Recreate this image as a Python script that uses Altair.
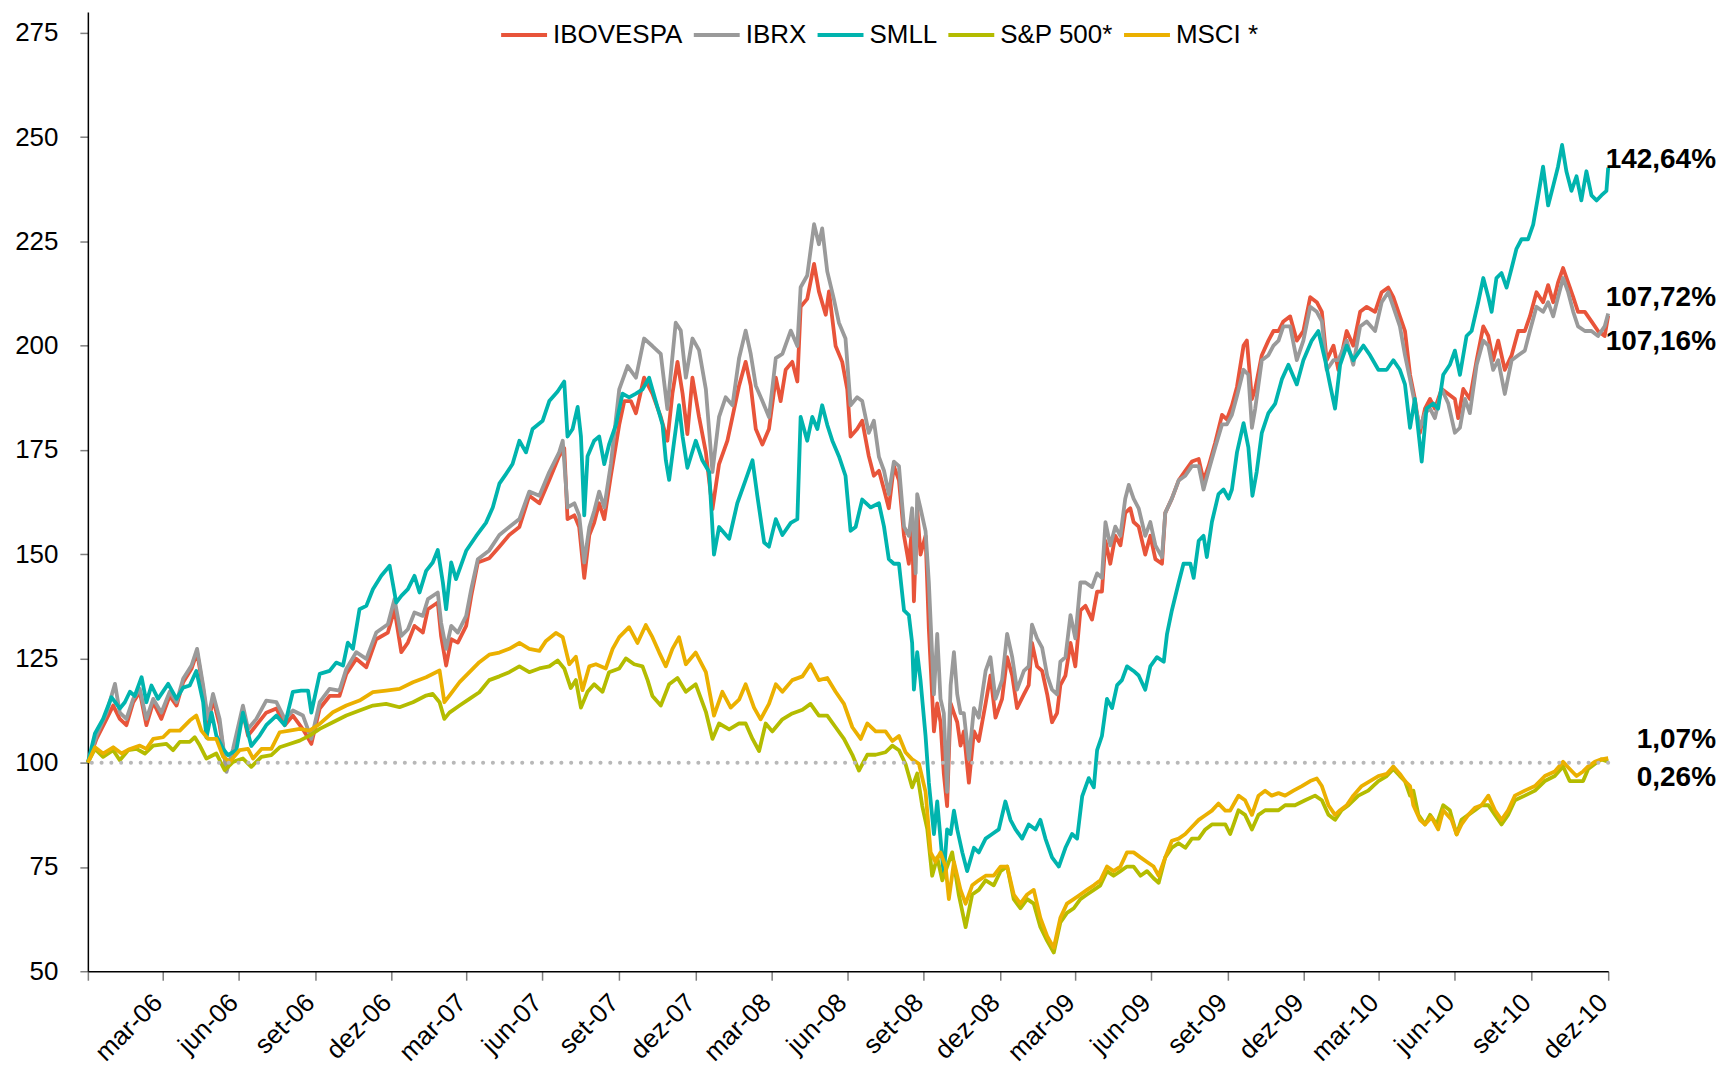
import altair as alt
import pandas as pd

# (months since end of Dec-2005, index value)
IBOVESPA = [
    (0, 100), (0.34, 105.7), (0.74, 110.5), (1.0, 113.7), (1.26, 110.5), (1.52, 109), (1.79, 114.5), (2.05, 117),
    (2.31, 109), (2.58, 114.5), (2.90, 110.5), (3.23, 116), (3.50, 113.7), (3.76, 119.3), (4.09, 122.5), (4.31, 126.5),
    (4.55, 117.7), (4.74, 109), (4.94, 115.3), (5.20, 109), (5.47, 98.2), (5.73, 102.5), (6.12, 112), (6.32, 106.5),
    (6.65, 109), (7.04, 112), (7.44, 113), (7.77, 109), (8.09, 111.3), (8.49, 108), (8.82, 104.5), (9.15, 113),
    (9.54, 116), (9.93, 116), (10.20, 121.3), (10.59, 124.9), (10.99, 122.9), (11.38, 129.6), (11.84, 131.2),
    (12.10, 136.8), (12.37, 126.5), (12.63, 128.8), (12.89, 132.8), (13.22, 131.2), (13.42, 136.8), (13.81, 138.4),
    (13.94, 130.4), (14.14, 123.3), (14.34, 129.6), (14.60, 128.8), (14.93, 132.8), (15.13, 140), (15.39, 148),
    (15.84, 149), (16.24, 151.8), (16.63, 154.6), (17.03, 156.5), (17.42, 164), (17.82, 162.2), (18.21, 167.8),
    (18.60, 173.5), (18.80, 175.4), (18.93, 158.4), (19.20, 159.3), (19.39, 156.5), (19.59, 144.3), (19.79, 154.6),
    (19.98, 157.5), (20.18, 162.2), (20.38, 158.4), (20.64, 168.8), (20.97, 181), (21.17, 186.7), (21.43, 186.7),
    (21.63, 183.8), (21.95, 192.3), (22.28, 188.5), (22.61, 182.9), (22.87, 177.2), (23.07, 188.5), (23.27, 196.1),
    (23.47, 188.5), (23.66, 178.8), (23.86, 192.3), (24.12, 182.9), (24.39, 174.4), (24.65, 160.8), (24.91, 171.6),
    (25.24, 177.2), (25.44, 182.9), (25.70, 190.4), (25.96, 196.1), (26.16, 190.4), (26.36, 180), (26.62, 176.3),
    (26.88, 180), (27.15, 192.3), (27.34, 186.7), (27.54, 194.2), (27.80, 196.1), (28.00, 191.4), (28.13, 209.3),
    (28.39, 211.2), (28.66, 219.6), (28.85, 213), (29.12, 207.4), (29.25, 213), (29.51, 199.9), (29.77, 196.1),
    (29.97, 189.5), (30.10, 178.2), (30.36, 180), (30.56, 182), (30.82, 173.5), (31.02, 168.8),
    (31.22, 170), (31.42, 165.5), (31.61, 161), (31.81, 171.1), (32.01, 167.7), (32.21, 154.4), (32.40, 147.7),
    (32.53, 156.6), (32.60, 138.7), (32.73, 161), (32.86, 149.9), (33.06, 154.4), (33.19, 132), (33.39, 107.5),
    (33.52, 114.2), (33.65, 109.7), (33.78, 97.4), (33.91, 89.6), (34.05, 114.2), (34.18, 111.9), (34.31, 109.7),
    (34.44, 104.1), (34.57, 107.5), (34.77, 95.2), (34.97, 107.5), (35.16, 105.2), (35.43, 114.2), (35.62, 120.9),
    (35.82, 110.8), (36.08, 115.3), (36.28, 125.3), (36.48, 120.9), (36.67, 113.1), (36.94, 116.4), (37.13, 118.6),
    (37.26, 128.7), (37.46, 123.1), (37.66, 122), (37.86, 116.4), (38.05, 109.7), (38.25, 111.9), (38.38, 118.6),
    (38.58, 120.9), (38.78, 128.7), (38.97, 123.1), (39.17, 136.5), (39.37, 137.6), (39.63, 134.3), (39.83, 141),
    (40.02, 141), (40.16, 153.2), (40.35, 147.7), (40.55, 154.4), (40.75, 152.1), (40.94, 159.9), (41.14, 161),
    (41.27, 157.7), (41.47, 156.6), (41.73, 149.9), (41.93, 154.4), (42.13, 148.8), (42.39, 147.7), (42.52, 159.9),
    (42.78, 163.3), (43.05, 167.7), (43.31, 170), (43.57, 172.2), (43.84, 172.8), (44.03, 167.7), (44.23, 171.1),
    (44.49, 176.7), (44.76, 183.4), (44.95, 182.3), (45.15, 185.6), (45.35, 190.1),
    (45.61, 200), (45.74, 201.2), (45.94, 187.2), (46.07, 189.6), (46.33, 197.7), (46.59, 201.2), (46.79, 203.5),
    (46.99, 203.5), (47.18, 205.8), (47.45, 207), (47.71, 201.2), (47.97, 203.5), (48.24, 211.6), (48.50, 210.4),
    (48.70, 208.1), (48.89, 196.5), (49.16, 200), (49.35, 194.2), (49.68, 203.5), (49.94, 200), (50.21, 208.1),
    (50.47, 209.3), (50.80, 208.1), (51.06, 212.8), (51.32, 213.9), (51.52, 211.6), (51.78, 207), (51.98, 203.5),
    (52.18, 193), (52.37, 187.2), (52.57, 179.1), (52.77, 184.9), (52.97, 187.2), (53.16, 184.9), (53.43, 189.6),
    (53.69, 188.4), (53.95, 187.2), (54.08, 182.6), (54.28, 189.6), (54.54, 187.2), (54.81, 196.5), (55.07, 204.6),
    (55.27, 202.3), (55.46, 196.5), (55.66, 201.2), (55.92, 194.2), (56.19, 197.7), (56.45, 203.5), (56.71, 203.5),
    (56.91, 207), (57.17, 212.8), (57.43, 210.4), (57.63, 214.5), (57.83, 210.4), (58.02, 215.1), (58.22, 218.6),
    (58.42, 215.1), (58.62, 211.6), (58.81, 208.1), (59.08, 208.1), (59.34, 205.8), (59.60, 203.5), (59.86, 202.3),
    (60.0, 207.16),
]

IBRX = [
    (0, 100), (0.34, 106.5), (0.74, 112), (1.07, 118.9), (1.26, 112), (1.52, 110.5), (1.79, 115.3), (2.05, 117.7),
    (2.31, 110.5), (2.58, 115.3), (2.90, 112), (3.23, 117), (3.50, 114.5), (3.76, 120.1), (4.09, 123.3), (4.31, 127.3),
    (4.55, 118.5), (4.74, 110.5), (4.94, 116.5), (5.20, 110.5), (5.47, 97.8), (5.73, 103.3), (6.12, 113.7),
    (6.32, 108.1), (6.65, 110.5), (7.04, 114.9), (7.44, 114.5), (7.77, 110.5), (8.09, 112.5), (8.49, 111.3),
    (8.82, 105.7), (9.15, 114.5), (9.54, 117.7), (9.93, 117.3), (10.20, 122.5), (10.59, 126.5), (10.99, 124.9),
    (11.38, 131.2), (11.84, 133.2), (12.10, 139.2), (12.37, 130.4), (12.63, 132), (12.89, 136), (13.22, 135.2),
    (13.42, 139.2), (13.81, 140.8), (13.94, 133.6), (14.14, 127.3), (14.34, 132.8), (14.60, 131.2), (14.93, 135.2),
    (15.13, 141.6), (15.39, 148.8),
    (15.84, 150.9), (16.24, 154.6), (16.63, 156.5), (17.03, 158.4), (17.42, 165), (17.82, 164), (18.21, 169.7),
    (18.60, 174.4), (18.74, 177.2), (18.93, 161.2), (19.20, 162.2), (19.39, 159.3), (19.59, 148), (19.79, 156.5),
    (19.98, 160.3), (20.18, 165), (20.38, 161.2), (20.64, 171.6), (20.97, 189.5), (21.30, 195.1), (21.63, 192.3),
    (21.95, 201.7), (22.28, 199.9), (22.61, 198), (22.87, 184.8), (23.20, 205.5), (23.40, 203.6), (23.60, 192.3),
    (23.86, 201.7), (24.12, 198.9), (24.39, 189.5), (24.65, 169.7), (24.91, 182.9), (25.17, 187.6), (25.44, 185.7),
    (25.70, 197), (25.96, 203.6), (26.16, 198), (26.36, 190.4), (26.62, 186.7), (26.88, 182.9), (27.15, 197),
    (27.41, 198), (27.74, 203.6), (28.00, 199.9), (28.13, 214), (28.39, 216.8), (28.66, 229.1), (28.85, 224.3),
    (28.98, 228.1), (29.18, 217.8), (29.44, 211.2), (29.64, 205.5), (29.90, 201.7), (30.10, 185.7), (30.36, 187.6),
    (30.56, 186.7), (30.82, 179.1), (31.02, 182),
    (31.22, 173.3), (31.42, 170), (31.61, 164.4), (31.81, 172.2), (32.01, 171.1), (32.21, 156.6), (32.40, 154.4),
    (32.53, 161), (32.67, 145.4), (32.73, 164.4), (32.86, 161), (33.06, 155.5), (33.19, 143.2), (33.39, 116.4),
    (33.52, 130.9), (33.65, 115.3), (33.78, 111.9), (33.91, 93), (34.05, 118.6), (34.18, 126.5), (34.31, 116.4),
    (34.44, 111.9), (34.57, 111.9), (34.77, 100.8), (34.97, 113.1), (35.16, 110.8), (35.43, 122), (35.62, 125.3),
    (35.82, 115.3), (36.08, 119.8), (36.28, 130.9), (36.48, 125.3), (36.67, 117.5), (36.94, 122), (37.13, 123.1),
    (37.26, 133.1), (37.46, 129.8), (37.66, 127.6), (37.86, 120.9), (38.05, 117.5), (38.25, 116.4), (38.38, 124.2),
    (38.58, 125.3), (38.78, 135.4), (38.97, 129.8), (39.17, 143.2), (39.37, 143.2), (39.63, 142.1), (39.83, 145.4),
    (40.02, 144.3), (40.16, 157.7), (40.35, 152.1), (40.55, 156.6), (40.75, 154.4), (40.94, 163.3), (41.08, 166.6),
    (41.27, 163.3), (41.47, 161), (41.73, 154.4), (41.93, 157.7), (42.13, 152.1), (42.39, 149.3), (42.52, 159.9),
    (42.78, 163.3), (43.05, 167.7), (43.31, 168.8), (43.57, 171.1), (43.84, 171.1), (44.03, 165.5), (44.23, 170),
    (44.49, 175.6), (44.76, 181.1), (44.95, 181.1), (45.15, 183.4), (45.35, 187.9),
    (45.61, 194.2), (45.80, 193), (45.94, 180.3), (46.07, 184.9), (46.33, 196.5), (46.59, 197.7), (46.79, 200),
    (46.99, 201.2), (47.18, 204.6), (47.45, 204.6), (47.71, 196.5), (47.97, 201.2), (48.24, 209.3), (48.50, 208.1),
    (48.70, 205.8), (48.89, 194.2), (49.16, 196.5), (49.35, 196.5), (49.68, 201.2), (49.94, 195.4), (50.21, 204.6),
    (50.47, 205.8), (50.80, 203.5), (51.06, 210.4), (51.32, 212.8), (51.52, 209.3), (51.78, 204.6), (51.98, 197.7),
    (52.18, 191.9), (52.37, 186.1), (52.57, 180.3), (52.77, 183.8), (52.97, 184.9), (53.16, 182.6), (53.43, 189.6),
    (53.69, 186.1), (53.95, 179.1), (54.15, 180.3), (54.35, 187.2), (54.54, 183.8), (54.81, 195.4), (55.07, 201.2),
    (55.27, 200), (55.46, 194.2), (55.66, 196.5), (55.92, 188.4), (56.19, 196.5), (56.45, 197.7), (56.71, 198.8),
    (56.91, 203.5), (57.17, 209.3), (57.43, 208.1), (57.63, 210.4), (57.83, 207), (58.02, 211.6), (58.22, 216.2),
    (58.42, 212.8), (58.62, 208.1), (58.81, 204.6), (59.08, 203.5), (59.34, 203.5), (59.60, 202.3), (59.86, 204.6),
    (60.0, 207.72),
]

SMLL = [
    (0, 100), (0.28, 107), (0.60, 110.5), (0.93, 115.7), (1.26, 113), (1.46, 114.5), (1.66, 117), (1.85, 116),
    (2.12, 120.5), (2.31, 114.5), (2.51, 118.5), (2.77, 115.3), (3.17, 118.9), (3.50, 115.3), (3.76, 118),
    (4.02, 118.5), (4.28, 122), (4.55, 114.5), (4.68, 106), (4.88, 112), (5.07, 106.5), (5.34, 103.3), (5.53, 101.8),
    (5.86, 103), (6.12, 112), (6.45, 104), (6.78, 106.5), (7.04, 109), (7.44, 111.3), (7.77, 109), (8.09, 117),
    (8.42, 117.3), (8.69, 117.3), (8.82, 112), (9.15, 121.3), (9.54, 122), (9.80, 124), (10.07, 123.3),
    (10.26, 128.8), (10.46, 127.3), (10.72, 136.8), (10.99, 137.6), (11.25, 141.6), (11.58, 144.8), (11.91, 147.2),
    (12.17, 138.4), (12.37, 140), (12.63, 141.6), (12.89, 144.8), (13.09, 140.8), (13.35, 146), (13.61, 148),
    (13.81, 151), (14.01, 143.2), (14.14, 136.8), (14.34, 148), (14.53, 144), (14.93, 150.8), (15.32, 154.3),
    (15.71, 157.5), (15.98, 161.2), (16.24, 166.9), (16.50, 169.2), (16.76, 171.6), (17.03, 177.2), (17.29, 174.4),
    (17.55, 180), (17.95, 182), (18.21, 186.7), (18.54, 189), (18.80, 191.4), (18.93, 178.2), (19.13, 180),
    (19.33, 185.3), (19.46, 178.2), (19.59, 159.3), (19.72, 173.5), (19.98, 177.2), (20.18, 178.2), (20.38, 171.6),
    (20.57, 176.3), (20.84, 181), (21.10, 188.5), (21.36, 187.6), (21.63, 188.5), (21.89, 189.5), (22.15, 192.3),
    (22.41, 186.7), (22.68, 181), (22.81, 172.5), (22.94, 167.8), (23.14, 177.2), (23.33, 185.7), (23.47, 178.2),
    (23.66, 170.7), (23.99, 177.2), (24.25, 172.5), (24.52, 169.7), (24.71, 149.9), (24.91, 156.5), (25.31, 153.7),
    (25.63, 162.2), (25.96, 167.8), (26.23, 172.5), (26.42, 164), (26.69, 152.8), (26.88, 151.8), (27.15, 158.4),
    (27.41, 154.6), (27.74, 157.5), (28.00, 158.4), (28.13, 182.9), (28.39, 177.2), (28.59, 182.9), (28.79, 180),
    (28.98, 185.7), (29.18, 181), (29.38, 177.2), (29.64, 173.5), (29.90, 168.8), (30.10, 155.6), (30.30, 156.5),
    (30.56, 163.1), (30.89, 161.2),
    (31.22, 162.2), (31.42, 156.6), (31.61, 148.8), (31.81, 147.7), (32.01, 147.7), (32.21, 136.5), (32.40, 135.4),
    (32.53, 128.7), (32.60, 117.5), (32.73, 126.5), (32.86, 119.8), (33.06, 106.4), (33.19, 95.2), (33.39, 82.9),
    (33.52, 90.7), (33.65, 81.8), (33.78, 72.9), (33.91, 84), (34.05, 82.9), (34.18, 88.5), (34.31, 84),
    (34.51, 78.5), (34.70, 74), (34.97, 79.6), (35.16, 78.5), (35.43, 81.8), (35.69, 82.9), (35.95, 84),
    (36.21, 90.7), (36.41, 86.3), (36.61, 84), (36.87, 81.8), (37.13, 85.2), (37.40, 84), (37.59, 86.3),
    (37.79, 81.8), (38.05, 77.3), (38.32, 75.1), (38.58, 79.6), (38.84, 82.9), (39.04, 81.8), (39.24, 91.9),
    (39.50, 96.3), (39.70, 94.1), (39.83, 103), (40.02, 106.4), (40.22, 115.3), (40.42, 113.1), (40.62, 118.6),
    (40.81, 119.8), (41.01, 123.1), (41.27, 122), (41.47, 120.9), (41.73, 117.5), (41.93, 123.1), (42.19, 125.3),
    (42.46, 124.2), (42.59, 130.9), (42.78, 136.5), (43.05, 143.2), (43.24, 147.7), (43.51, 147.7), (43.64, 144.3),
    (43.84, 153.2), (44.03, 154.4), (44.16, 149.3), (44.36, 157.7), (44.62, 164.4), (44.82, 165.5), (45.02, 163.3),
    (45.15, 165.5), (45.35, 174.4),
    (45.61, 181.4), (45.80, 175.6), (45.96, 164), (46.13, 169.8), (46.33, 179.1), (46.59, 183.8), (46.86, 186.1),
    (47.12, 191.9), (47.38, 195.4), (47.71, 190.7), (47.97, 196.5), (48.30, 201.2), (48.56, 203.5), (48.83, 196.5),
    (49.02, 190.7), (49.22, 184.9), (49.42, 195.4), (49.68, 200), (49.94, 196.5), (50.34, 200), (50.60, 197.7),
    (50.93, 194.2), (51.26, 194.2), (51.52, 196.5), (51.78, 194.2), (51.98, 190.7), (52.18, 180.3), (52.37, 187.2),
    (52.64, 172.2), (52.83, 184.9), (53.10, 186.1), (53.29, 184.9), (53.49, 193), (53.75, 195.4), (53.95, 198.8),
    (54.15, 193), (54.41, 202.3), (54.61, 203.5), (54.87, 210.4), (55.07, 216.2), (55.27, 211.6), (55.40, 208.1),
    (55.59, 216.2), (55.79, 217.4), (55.99, 213.9), (56.19, 218.6), (56.38, 223.2), (56.58, 225.5), (56.84, 225.5),
    (57.04, 229), (57.24, 236), (57.43, 242.9), (57.63, 233.6), (57.83, 238.3), (58.02, 242.9), (58.18, 248.1),
    (58.35, 241.8), (58.55, 237.1), (58.75, 240.6), (58.94, 234.8), (59.14, 241.8), (59.34, 236), (59.54, 234.8),
    (59.73, 236), (59.93, 237.1), (60.0, 242.64),
]

SP500 = [
    (0, 100), (0.28, 103.3), (0.60, 101.4), (1.0, 103), (1.26, 100.6), (1.59, 103), (1.92, 103.3), (2.25, 102.2),
    (2.58, 104.1), (3.10, 104.5), (3.36, 103), (3.63, 105), (4.02, 105), (4.22, 106.1), (4.42, 104.1), (4.68, 101),
    (5.07, 102.2), (5.40, 98.2), (5.73, 100.2), (6.12, 101), (6.45, 99), (6.85, 101.4), (7.24, 101.8), (7.57, 103.7),
    (7.96, 104.5), (8.36, 105.3), (8.75, 106.5), (9.15, 108.1), (9.67, 109.7), (10.20, 111.3), (10.72, 112.5),
    (11.25, 113.7), (11.77, 114.1), (12.30, 113.3), (12.83, 114.5), (13.35, 116.1), (13.61, 116.5), (13.88, 114.5),
    (14.07, 110.5), (14.27, 112), (14.67, 113.7), (15.06, 115.3), (15.45, 116.9),
    (15.84, 119.8), (16.24, 120.7), (16.63, 121.7), (17.03, 123.1), (17.42, 121.7), (17.82, 122.6), (18.21, 123.1),
    (18.54, 124.5), (18.80, 122.6), (19.06, 117.9), (19.26, 119.8), (19.46, 113.2), (19.72, 117), (19.98, 118.8),
    (20.31, 117), (20.57, 121.7), (20.97, 122.6), (21.23, 125), (21.56, 123.6), (21.89, 123.1), (22.09, 119.8),
    (22.28, 116), (22.61, 113.7), (22.94, 118.8), (23.27, 120.3), (23.60, 117), (23.99, 118.8), (24.39, 112.2),
    (24.65, 105.7), (24.91, 109.4), (25.31, 108), (25.70, 109.4), (25.96, 109.4), (26.23, 105.7), (26.49, 102.8),
    (26.75, 109.4), (27.01, 107.5), (27.41, 110.4), (27.80, 111.8), (28.20, 112.7), (28.52, 114.1), (28.85, 111.3),
    (29.18, 111.3), (29.51, 108.5), (29.84, 105.7), (30.17, 101.9), (30.43, 98.1), (30.76, 101.9), (31.09, 101.9),
    (31.48, 102.5), (31.75, 104.1), (32.01, 103), (32.27, 99.7), (32.53, 94.1), (32.73, 97.4), (32.93, 89.6),
    (33.13, 84), (33.32, 72.9), (33.52, 77.3), (33.72, 71.8), (33.91, 75.1), (34.11, 78.5), (34.37, 68.4),
    (34.64, 60.6), (34.90, 68.4), (35.16, 69.5), (35.43, 71.8), (35.75, 70.6), (36.02, 74), (36.28, 75.1),
    (36.54, 67.3), (36.80, 65.1), (37.07, 67.3), (37.33, 66.2), (37.59, 60.6), (37.86, 57.3), (38.12, 54.5),
    (38.38, 61.7), (38.64, 64), (38.91, 65.1), (39.17, 67.3), (39.43, 68.4), (39.70, 69.5), (39.96, 70.6),
    (40.22, 74), (40.48, 72.9), (40.75, 74), (41.01, 75.1), (41.27, 75.1), (41.54, 72.9), (41.80, 74), (42.06, 72.3),
    (42.26, 71.2), (42.52, 77.3), (42.78, 79.6), (43.05, 80.7), (43.31, 79.6), (43.57, 81.8), (43.84, 81.8),
    (44.10, 84), (44.36, 85.2), (44.62, 85.2), (44.89, 85.2), (45.08, 82.9), (45.28, 86.3),
    (45.41, 88.6), (45.67, 87.5), (45.94, 84), (46.20, 87.5), (46.46, 88.6), (46.72, 88.6), (46.99, 88.6),
    (47.25, 89.8), (47.64, 89.8), (48.04, 91), (48.43, 92.1), (48.70, 91), (48.96, 87.5), (49.22, 86.3),
    (49.48, 88.6), (49.75, 89.8), (50.14, 92.1), (50.53, 93.3), (50.93, 95.6), (51.26, 96.8), (51.52, 98.5),
    (51.78, 96.8), (51.98, 95.6), (52.18, 92.1), (52.31, 93.3), (52.51, 87.5), (52.77, 85.2), (52.97, 87.5),
    (53.23, 85.2), (53.49, 89.8), (53.75, 88.6), (54.02, 82.8), (54.21, 86.3), (54.48, 87.5), (54.74, 88.6),
    (55.00, 89.8), (55.27, 89.8), (55.53, 87.5), (55.79, 85.2), (56.05, 87.5), (56.32, 91), (56.71, 92.1),
    (57.11, 93.3), (57.50, 95.6), (57.89, 96.8), (58.22, 99.1), (58.48, 95.6), (58.75, 95.6), (59.01, 95.6),
    (59.21, 98.5), (59.47, 99.7), (59.73, 100.8), (60.0, 100.26),
]

MSCI = [
    (0, 100), (0.28, 103.7), (0.60, 102.2), (1.0, 103.7), (1.33, 102.2), (1.66, 103.3), (2.05, 104.1), (2.31, 103.3),
    (2.58, 105.7), (2.97, 106.1), (3.23, 107.7), (3.63, 107.7), (4.02, 110.1), (4.28, 111.3), (4.48, 107.7),
    (4.74, 105.7), (5.07, 105.7), (5.34, 101.4), (5.60, 100.2), (5.99, 103), (6.32, 103.3), (6.52, 101),
    (6.85, 103.3), (7.24, 103.3), (7.57, 107.3), (7.96, 107.7), (8.36, 108.1), (8.75, 107.7), (9.15, 109.3),
    (9.67, 112.1), (10.20, 113.7), (10.72, 114.9), (11.25, 116.9), (11.77, 117.3), (12.30, 117.7), (12.83, 119.3),
    (13.35, 120.5), (13.88, 122.1), (14.07, 114.5), (14.27, 116.1), (14.67, 119.3), (15.06, 121.7), (15.45, 124.1),
    (15.84, 125.9), (16.24, 126.4), (16.63, 127.3), (17.03, 128.7), (17.42, 127.3), (17.82, 126.8), (18.08, 129.2),
    (18.47, 131.1), (18.74, 130.1), (19.00, 123.6), (19.26, 125.4), (19.52, 117.4), (19.79, 123.1), (20.05, 123.6),
    (20.44, 122.6), (20.71, 127.3), (20.97, 130.1), (21.36, 132.5), (21.69, 128.7), (22.02, 133), (22.28, 130.1),
    (22.55, 126.4), (22.81, 123.1), (23.07, 127.3), (23.33, 130.1), (23.60, 123.6), (23.99, 126.4), (24.39, 121.7),
    (24.71, 111.3), (25.04, 117), (25.37, 113.2), (25.70, 115.1), (25.96, 118.8), (26.29, 113.2), (26.55, 110.4),
    (26.88, 114.1), (27.15, 118.8), (27.41, 117), (27.80, 119.8), (28.20, 120.7), (28.52, 123.6), (28.85, 119.8),
    (29.18, 120.3), (29.51, 117), (29.84, 114.1), (30.17, 108.5), (30.50, 105.7), (30.76, 109.4), (31.09, 107.5),
    (31.48, 107.5), (31.75, 105.2), (32.01, 106.4), (32.27, 102.5), (32.53, 100.8), (32.80, 99.7), (33.06, 93),
    (33.26, 78.5), (33.45, 76.2), (33.65, 78.5), (33.85, 75.1), (33.98, 67.3), (34.18, 76.2), (34.44, 69.5),
    (34.64, 66.2), (34.90, 70.6), (35.16, 71.8), (35.43, 72.9), (35.75, 72.9), (36.02, 75.1), (36.28, 75.1),
    (36.54, 68.4), (36.80, 66.2), (37.07, 68.4), (37.33, 69.5), (37.59, 62.8), (37.86, 58.4), (38.12, 55.6),
    (38.38, 62.8), (38.64, 66.2), (38.91, 67.3), (39.17, 68.4), (39.43, 69.5), (39.70, 70.6), (39.96, 71.8),
    (40.22, 75.1), (40.48, 74), (40.75, 75.1), (41.01, 78.5), (41.27, 78.5), (41.54, 77.3), (41.80, 76.2),
    (42.06, 75.1), (42.26, 72.9), (42.52, 77.3), (42.78, 81.3), (43.05, 81.8), (43.31, 82.9), (43.57, 84.6),
    (43.84, 86.3), (44.10, 87.4), (44.36, 88.5), (44.62, 90.2), (44.89, 88.5), (45.08, 88.5), (45.28, 90.7),
    (45.41, 92.1), (45.67, 91), (45.94, 87.5), (46.20, 92.1), (46.46, 93.3), (46.72, 92.1), (46.99, 92.7),
    (47.25, 92.1), (47.58, 93.3), (47.91, 94.4), (48.24, 95.6), (48.50, 96.2), (48.70, 94.4), (48.96, 89.8),
    (49.22, 87.5), (49.42, 88.6), (49.68, 89.8), (49.94, 92.1), (50.27, 94.4), (50.60, 95.6), (50.93, 96.8),
    (51.26, 97.3), (51.52, 99.1), (51.78, 97.3), (51.98, 95.6), (52.18, 94.4), (52.31, 89.8), (52.57, 86.3),
    (52.77, 85.2), (53.03, 86.9), (53.29, 84), (53.49, 88.6), (53.82, 86.3), (54.02, 82.8), (54.21, 85.2),
    (54.48, 87.5), (54.74, 89.2), (55.00, 89.8), (55.27, 92.1), (55.53, 88.6), (55.79, 86.3), (56.05, 88.6),
    (56.32, 92.1), (56.71, 93.3), (57.11, 94.4), (57.50, 96.8), (57.89, 97.9), (58.22, 100.2), (58.48, 98.5),
    (58.75, 96.8), (59.01, 97.9), (59.21, 99.1), (59.47, 100.2), (59.73, 100.8), (60.0, 101.07),
]

SERIES_NAMES = ["IBOVESPA", "IBRX", "SMLL", "S&P 500*", "MSCI *"]
SERIES_DATA = [IBOVESPA, IBRX, SMLL, SP500, MSCI]
SERIES_COLORS = ["#E8543A", "#9A9A9A", "#00B4AE", "#B4BC00", "#EBB000"]

END_LABELS = ["107,16%", "107,72%", "142,64%", "0,26%", "1,07%"]
END_LABEL_DY = [26, -15, -8, 16, -18]

QUARTER_TICKS = [(2005, 12, 31)] + [
    (y, m, d) for y in range(2006, 2011) for (m, d) in [(3, 31), (6, 30), (9, 30), (12, 31)]
]

BASE = pd.Timestamp("2005-12-31")
MONTH_DAYS = 365.25 / 12


def to_ms(t):
    ts = BASE + pd.to_timedelta(t * MONTH_DAYS, unit="D")
    return int(ts.value // 10**6)


rows = []
for name, pts in zip(SERIES_NAMES, SERIES_DATA):
    for t, v in pts:
        rows.append({"serie": name, "date": to_ms(t), "valor": v})
df = pd.DataFrame(rows)

FONT = "Liberation Sans"

x_scale = alt.Scale(
    type="utc",
    domain=[alt.DateTime(year=2005, month=12, date=31, utc=True),
            alt.DateTime(year=2010, month=12, date=31, hours=6, utc=True)],
)
y_scale = alt.Scale(domain=[50, 280], nice=False, zero=False)

month_expr = ("utcyear(datum.value) < 2006 ? '' : "
              "['jan','fev','mar','abr','mai','jun','jul','ago','set','out','nov','dez'][utcmonth(datum.value)]"
              " + '-' + utcFormat(datum.value, '%y')")

x_axis = alt.Axis(
    values=[alt.DateTime(year=y, month=m, date=d, utc=True) for (y, m, d) in QUARTER_TICKS],
    labelExpr=month_expr, labelAngle=-45, labelAlign="right", labelBaseline="middle",
    labelFontSize=26, labelFont=FONT, labelColor="#000000", labelPadding=18, labelOffset=-5,
    tickSize=9, tickColor="#7f7f7f", tickWidth=1.5, domainColor="#000000", domainWidth=1.5,
    grid=False, title=None, labelOverlap=False,
)
y_axis = alt.Axis(
    values=[50, 75, 100, 125, 150, 175, 200, 225, 250, 275],
    labelFontSize=26, labelFont=FONT, labelColor="#000000", labelPadding=22,
    tickSize=8, tickColor="#7f7f7f", tickWidth=1.5, domainColor="#000000", domainWidth=1.5,
    grid=False, title=None,
)

color = alt.Color(
    "serie:N",
    scale=alt.Scale(domain=SERIES_NAMES, range=SERIES_COLORS),
    legend=alt.Legend(
        orient="none", legendX=412, legendY=-2, direction="horizontal", title=None,
        symbolType="stroke", symbolSize=2116, symbolStrokeWidth=4,
        labelFontSize=26, labelFont=FONT, labelColor="#000000", labelOffset=4,
        columnPadding=3, labelLimit=0,
    ),
)

layers = []
for name in SERIES_NAMES:
    layers.append(
        alt.Chart(df).transform_filter(alt.datum.serie == name)
        .mark_line(strokeWidth=3.8, strokeJoin="round")
        .encode(
            x=alt.X("date:T", scale=x_scale, axis=x_axis),
            y=alt.Y("valor:Q", scale=y_scale, axis=y_axis),
            color=color,
        )
    )

ref = alt.Chart(pd.DataFrame({"valor": [100]})).mark_rule(
    color="#B8B8B8", strokeWidth=4, strokeDash=[0.1, 9.7], strokeCap="round"
).encode(y=alt.Y("valor:Q", scale=y_scale))
layers.append(ref)

end_rows = []
for name, pts, lab in zip(SERIES_NAMES, SERIES_DATA, END_LABELS):
    t, v = pts[-1]
    end_rows.append({"serie": name, "date": to_ms(t), "valor": v, "lab": lab})
end_df = pd.DataFrame(end_rows)

for name, dy in zip(SERIES_NAMES, END_LABEL_DY):
    layers.append(
        alt.Chart(end_df).transform_filter(alt.datum.serie == name)
        .mark_text(align="right", baseline="middle", dx=108, dy=dy, fontSize=28,
                   fontWeight="bold", font=FONT, color="#000000")
        .encode(x=alt.X("date:T", scale=x_scale), y=alt.Y("valor:Q", scale=y_scale), text="lab:N")
    )

chart = alt.layer(*layers).properties(
    width=1523, height=961,
    autosize=alt.AutoSizeParams(type="none"),
    padding={"left": 80, "top": 3, "right": 110, "bottom": 98},
    background="white",
).configure(font=FONT).configure_view(stroke=None)

chart.save("out.html", embed_options={"renderer": "svg", "actions": False})
